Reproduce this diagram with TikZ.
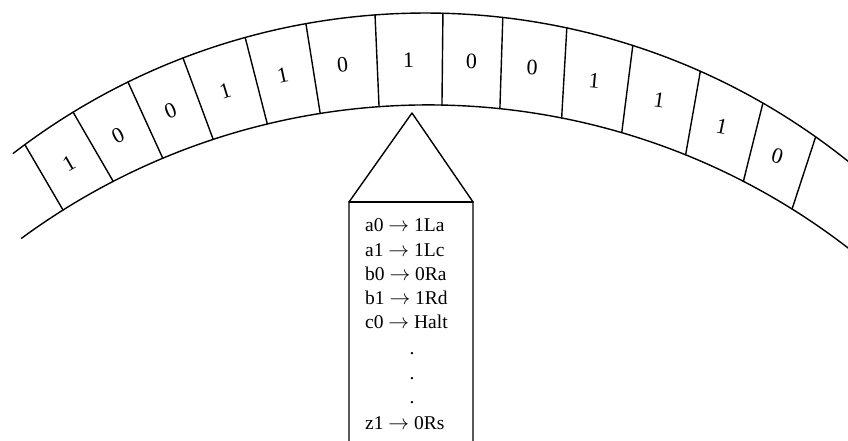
\documentclass[tikz,border=0pt]{standalone}
\usepackage{fontspec}
\setmainfont{Liberation Serif}
\usetikzlibrary{calc}

\begin{document}
\begin{tikzpicture}[x=1pt, y=1pt, line join=round, line cap=round,
  band/.style={line width=1.4pt},
  bit/.style={inner sep=0pt, font=\fontsize{22}{22}\selectfont},
  rule/.style={anchor=base west, inner sep=0pt, font=\fontsize{19.5}{21}\selectfont}]

  \clip (0,0) rectangle (848,441);

  % centres of the outer and inner edge of the tape
  \coordinate (co) at (425.6,-248);
  \coordinate (ci) at (428.3,-351.1);

  % the two edges of the tape
  \draw[band] ($(co)+(127.6:676)$) arc (127.6:48:676);
  \draw[band] ($(ci)+(126.3:687.2)$) arc (126.3:48:687.2);

  % walls between the cells
  \foreach \a/\b [count=\k] in {126.36/122.11, 121.43/117.29, 116.12/112.73,
      111.03/108.24, 105.48/103.55, 100.20/99.05, 94.29/94.11, 88.53/88.86,
      83.44/84.02, 77.94/78.81, 72.15/73.65, 66.02/68.01, 60.07/62.71,
      54.76/58.04} {
    \coordinate (o\k) at ($(co)+(\a:676)$);
    \coordinate (i\k) at ($(ci)+(\b:687.2)$);
    \draw[band] (i\k) -- (o\k);
  }

  % symbols on the tape
  \foreach \d/\r [count=\k] in {1/30, 0/27, 0/22, 1/17, 1/12, 0/6, 1/1,
      0/-1, 0/-2.5, 1/-5, 1/-8.5, 1/-12, 0/-16} {
    \pgfmathtruncatemacro\n{\k+1}
    \node[bit, rotate=\r] (b\k) at ($(o\k)!.5!(i\n)$) {\d};
  }

  % read/write head
  \coordinate (tip) at (412,328);
  \coordinate (hl) at (349,239);
  \coordinate (hr) at (473,239);
  \draw[band] (349,-5) -- (hl) -- (tip) -- (hr) -- (473,-5);
  \draw[band] (hl) -- (hr);

  % transition table
  \foreach \t [count=\k] in {a0 $\rightarrow$ 1La, a1 $\rightarrow$ 1Lc,
      b0 $\rightarrow$ 0Ra, b1 $\rightarrow$ 1Rd, c0 $\rightarrow$ Halt}
    \node[rule] (r\k) at (365,233.5-24.3*\k) {\t};
  \foreach \y [count=\k] in {86,61,37}
    \node[rule, anchor=base] (d\k) at (412,\y) {.};
  \node[rule] (rz) at (365,11) {z1 $\rightarrow$ 0Rs};

\end{tikzpicture}
\end{document}
